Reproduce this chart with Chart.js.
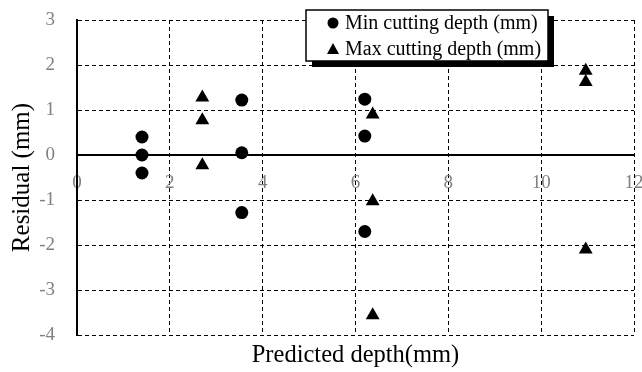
<!DOCTYPE html>
<html lang="en">
<head>
  <meta charset="UTF-8" />
  <title>Residual plot</title>
  <script src="https://cdn.jsdelivr.net/npm/chart.js"></script>
  <style>
    body { margin: 0; background: #fff; }
    canvas { display: block; }
  </style>
</head>
<body>
  <canvas id="myChart" width="642" height="372"></canvas>

  <script>
    // values
    const minX = [1.4, 1.4, 1.4, 3.55, 3.55, 3.55, 6.2, 6.2, 6.2];
    const minY = [0.4, 0, -0.4, 1.22, 0.05, -1.28, 1.24, 0.42, -1.7];
    const maxX = [2.7, 2.7, 2.7, 6.37, 6.37, 6.37, 10.96, 10.96, 10.96];
    const maxY = [1.28, 0.77, -0.23, 0.9, -1.03, -3.56, 1.87, 1.62, -2.1];
    const seriesLabels = ['Min cutting depth (mm)', 'Max cutting depth (mm)'];
    const xTicks = { min: 0, max: 12, step: 2 };
    const yTicks = { min: -4, max: 3, step: 1 };

    const serif = 'Liberation Serif';
    const tickGray = '#808080';

    const toPoints = (xs, ys) => xs.map((x, i) => ({ x: x, y: ys[i] }));

    // no extra room for edge tick labels, the plot box is fixed by layout padding
    const noEdgePad = s => {
      s.paddingLeft = 0; s.paddingRight = 0;
      s.paddingTop = 0; s.paddingBottom = 0;
    };

    // boxed legend with a drop shadow, like the Excel original
    const boxLegend = {
      id: 'boxLegend',
      afterDraw(chart) {
        const ctx = chart.ctx;
        const x = 306, y = 10, w = 242, h = 51;
        ctx.save();
        ctx.fillStyle = '#000';
        ctx.fillRect(x + 6, y + 6, w, h);
        ctx.fillStyle = '#fff';
        ctx.fillRect(x, y, w, h);
        ctx.lineWidth = 1.5;
        ctx.strokeStyle = '#000';
        ctx.strokeRect(x, y, w, h);

        ctx.font = '20px "' + serif + '"';
        ctx.textBaseline = 'middle';
        ctx.fillStyle = '#000';
        chart.data.datasets.forEach((ds, i) => {
          const cy = y + 13 + i * 26;
          const mx = x + 27;
          ctx.beginPath();
          if (ds.pointStyle === 'triangle') {
            ctx.moveTo(mx, cy - 6);
            ctx.lineTo(mx + 6, cy + 5);
            ctx.lineTo(mx - 6, cy + 5);
            ctx.closePath();
          } else {
            ctx.arc(mx, cy, 5.5, 0, Math.PI * 2);
          }
          ctx.fill();
          ctx.fillText(ds.label, x + 39, cy + 1);
        });
        ctx.restore();
      }
    };

    const ctx = document.getElementById('myChart').getContext('2d');
    new Chart(ctx, {
      type: 'scatter',
      data: {
        datasets: [
          {
            label: seriesLabels[0],
            data: toPoints(minX, minY),
            pointStyle: 'circle',
            pointRadius: 6.5,
            backgroundColor: '#000',
            borderColor: '#000',
            borderWidth: 0
          },
          {
            label: seriesLabels[1],
            data: toPoints(maxX, maxY),
            pointStyle: 'triangle',
            pointRadius: 8,
            backgroundColor: '#000',
            borderColor: '#000',
            borderWidth: 0
          }
        ]
      },
      options: {
        responsive: false,
        animation: false,
        layout: { padding: { top: 20, right: 8, left: 0, bottom: 0 } },
        plugins: {
          legend: { display: false },
          tooltip: { enabled: false }
        },
        scales: {
          x: {
            type: 'linear',
            position: 'bottom',
            min: xTicks.min,
            max: xTicks.max,
            ticks: { display: false, stepSize: xTicks.step },
            grid: { color: '#000', lineWidth: 1, drawTicks: false },
            border: { display: false, dash: [4, 3] },
            title: {
              display: true,
              text: 'Predicted depth(mm)',
              color: '#000',
              font: { family: serif, size: 24.5 },
              padding: { top: 2, bottom: 2 }
            },
            afterFit: s => { noEdgePad(s); s.height = 37; }
          },
          xAxis0: {
            type: 'linear',
            position: { y: 0 },
            min: xTicks.min,
            max: xTicks.max,
            ticks: {
              stepSize: xTicks.step,
              color: tickGray,
              font: { family: serif, size: 19 },
              padding: 17,
              maxRotation: 0
            },
            grid: { display: false, drawTicks: false },
            border: { display: true, color: '#000', width: 2 },
            afterFit: noEdgePad
          },
          y: {
            type: 'linear',
            position: 'left',
            min: yTicks.min,
            max: yTicks.max,
            ticks: {
              stepSize: yTicks.step,
              color: tickGray,
              font: { family: serif, size: 19 },
              padding: 22
            },
            grid: { color: '#000', lineWidth: 1, drawTicks: false },
            border: { display: true, color: '#000', width: 2, dash: [4, 3] },
            title: {
              display: true,
              text: 'Residual (mm)',
              color: '#000',
              font: { family: serif, size: 25 },
              padding: { top: 7, bottom: 0 }
            },
            afterFit: s => { noEdgePad(s); s.width = 77; }
          }
        }
      },
      plugins: [boxLegend]
    });
  </script>
</body>
</html>
